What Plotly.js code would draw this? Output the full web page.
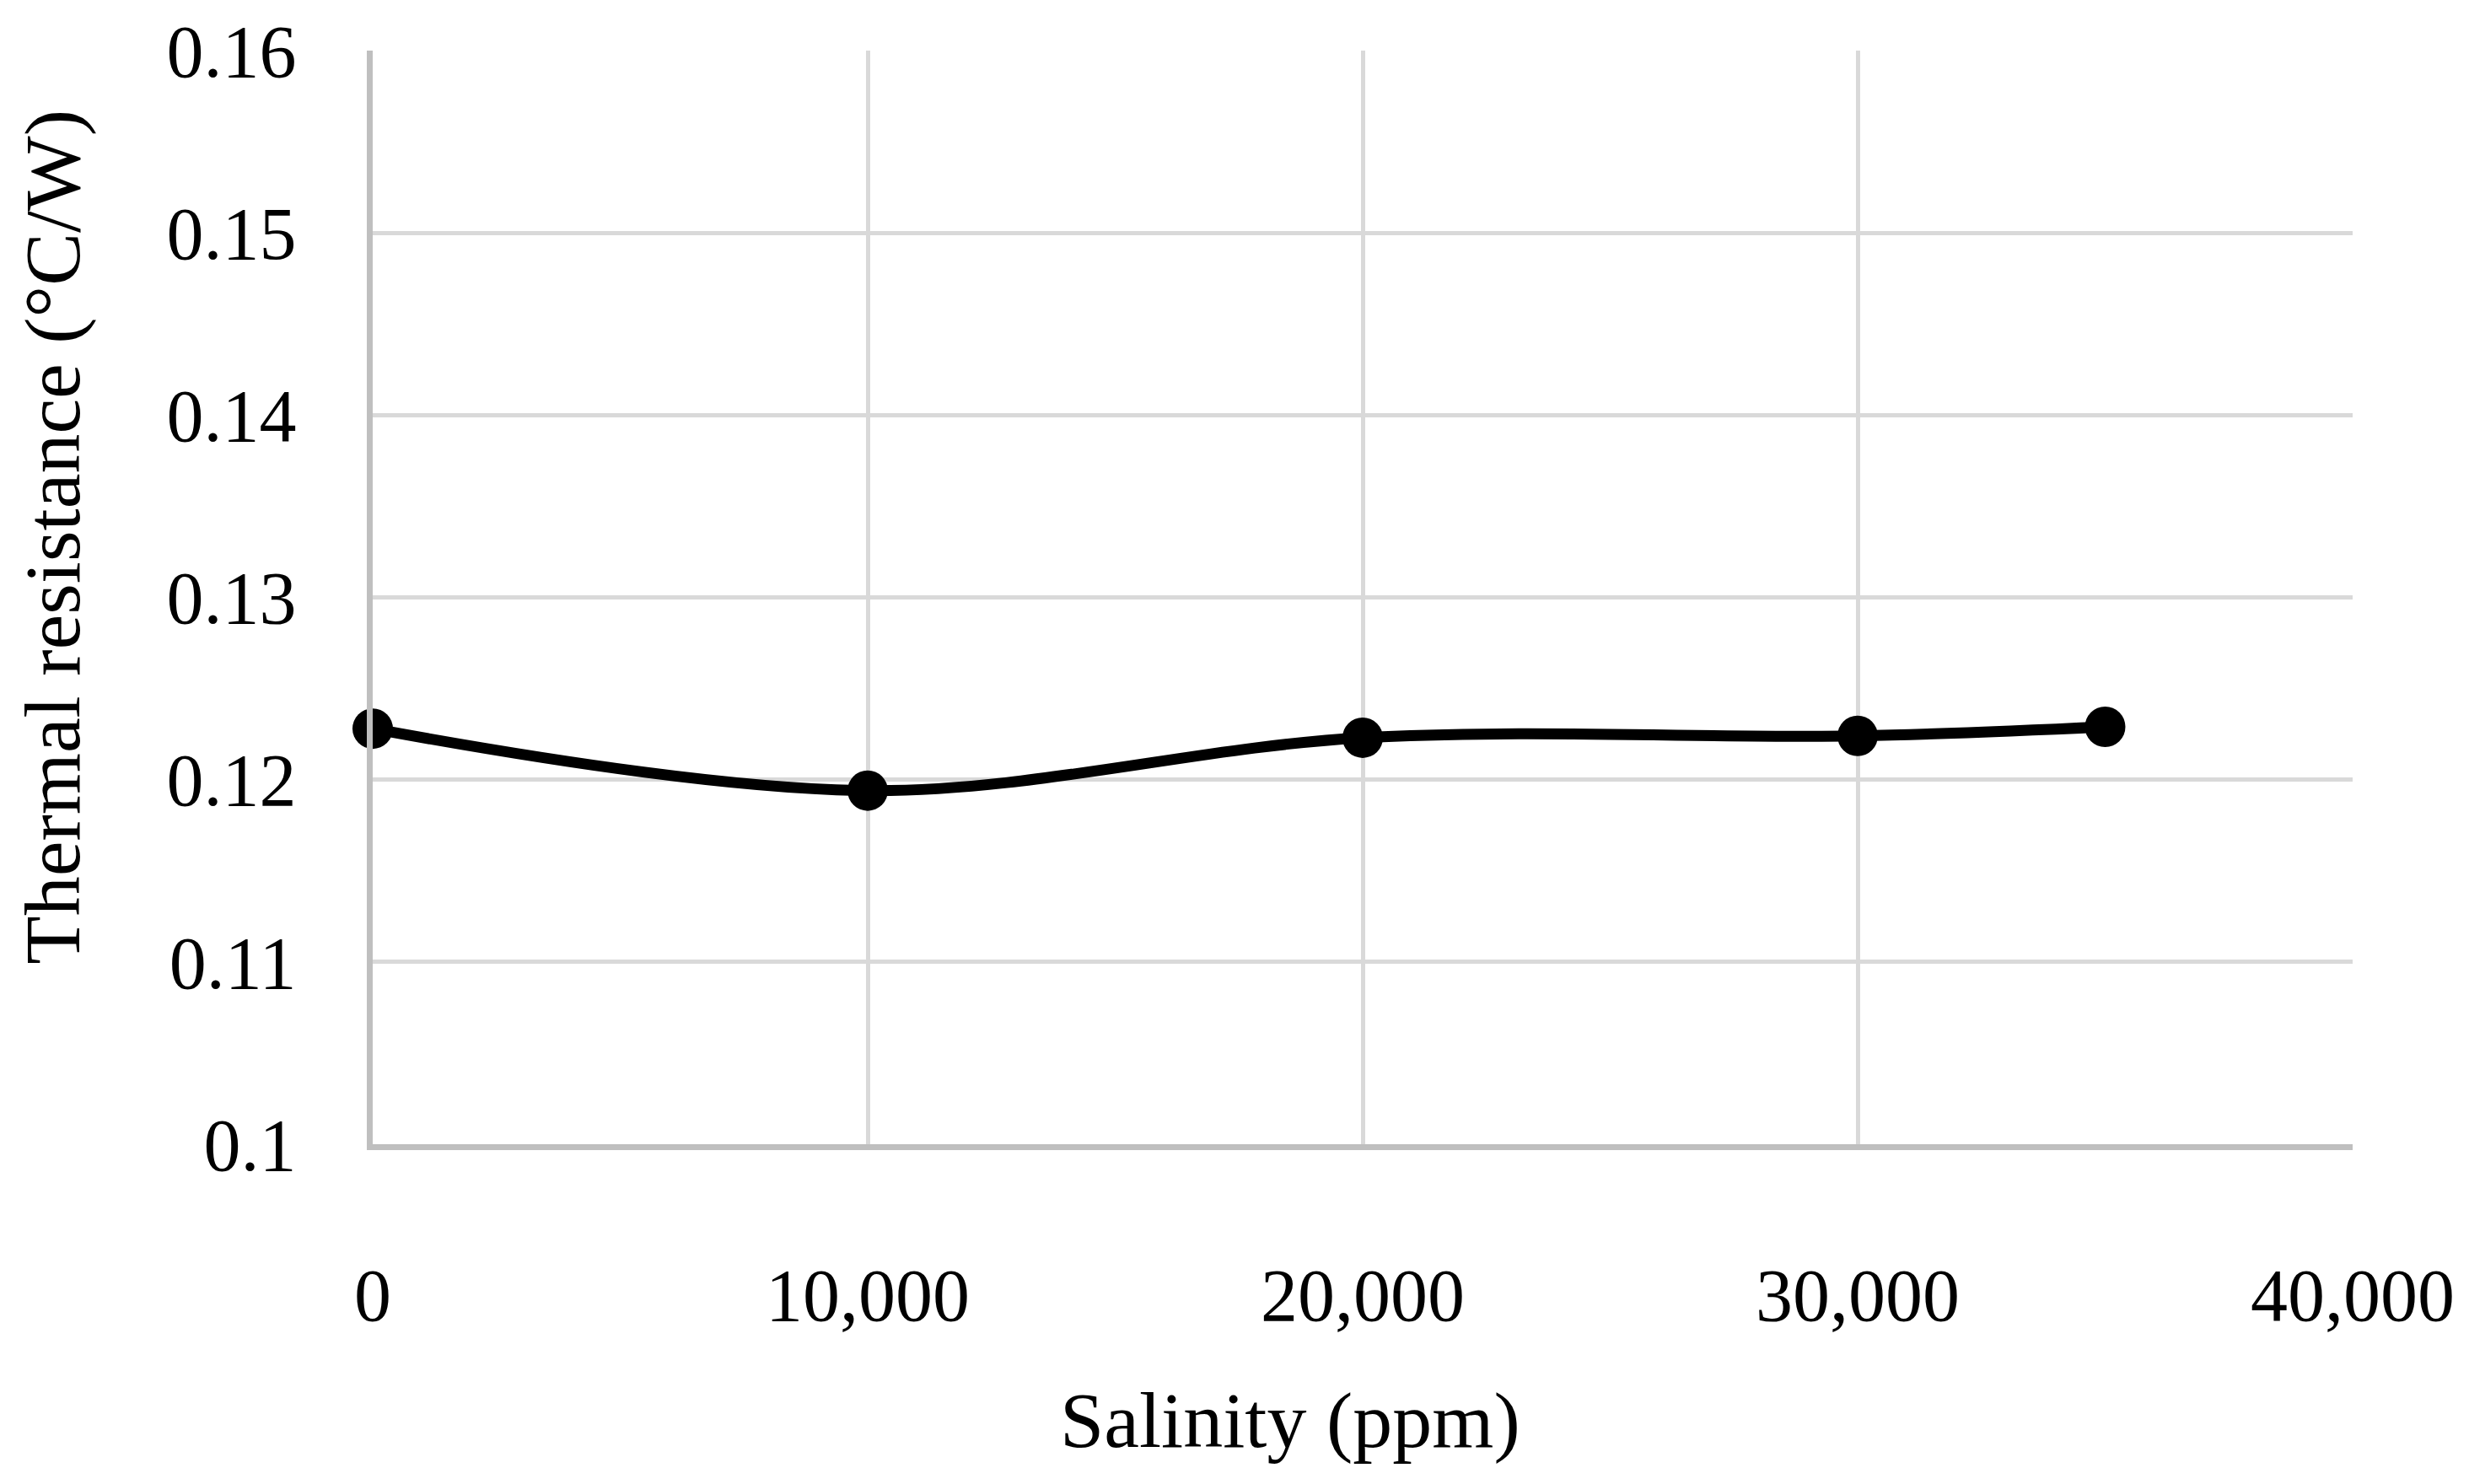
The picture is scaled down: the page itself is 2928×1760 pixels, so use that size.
<!DOCTYPE html>
<html>
<head>
<meta charset="utf-8">
<script src="https://cdn.plot.ly/plotly-3.0.1.min.js"></script>
<style>
  html, body { margin: 0; padding: 0; background: #ffffff; }
  #chart { width: 2928px; height: 1760px; }
</style>
</head>
<body>
<div id="chart"></div>
<script>
// Data
const salinity = [0, 10000, 20000, 30000, 35000];
const thermalResistance = [0.1228, 0.1194, 0.1223, 0.1224, 0.1229];

const xTitle = "Salinity (ppm)";
const yTitle = "Thermal resistance (°C/W)";

const FONT = "'Liberation Serif', 'Times New Roman', serif";

const trace = {
  x: salinity,
  y: thermalResistance,
  type: "scatter",
  mode: "lines+markers",
  line: { color: "#000000", width: 13, shape: "spline", smoothing: 1 },
  marker: { color: "#000000", size: 48 },
  showlegend: false,
  cliponaxis: false
};

const layout = {
  width: 2928,
  height: 1760,
  margin: { l: 442, r: 138, t: 60, b: 403, pad: 0 },
  paper_bgcolor: "#ffffff",
  plot_bgcolor: "#ffffff",
  font: { family: FONT, color: "#000000", size: 88 },
  xaxis: {
    range: [0, 40000],
    dtick: 10000,
    tick0: 0,
    tickformat: ",d",
    showgrid: true,
    gridcolor: "#d9d9d9",
    gridwidth: 5,
    zeroline: false,
    showline: true,
    linecolor: "#bfbfbf",
    linewidth: 7,
    ticks: "",
    ticklabelstandoff: 96,
    tickfont: { family: FONT, size: 88, color: "#000000" },
    fixedrange: true
  },
  yaxis: {
    range: [0.1, 0.16],
    dtick: 0.01,
    tick0: 0.1,
    showgrid: true,
    gridcolor: "#d9d9d9",
    gridwidth: 5,
    zeroline: false,
    showline: true,
    linecolor: "#bfbfbf",
    linewidth: 7,
    ticks: "",
    ticklabelstandoff: 66,
    tickfont: { family: FONT, size: 88, color: "#000000" },
    fixedrange: true
  },
  annotations: [
    {
      text: xTitle,
      xref: "paper", yref: "paper",
      x: 0.4635, y: -0.2521,
      xanchor: "center", yanchor: "middle",
      showarrow: false,
      font: { family: FONT, size: 94, color: "#000000" }
    },
    {
      text: yTitle,
      xref: "paper", yref: "paper",
      x: -0.1620, y: 0.5551,
      xanchor: "center", yanchor: "middle",
      textangle: -90,
      showarrow: false,
      font: { family: FONT, size: 94, color: "#000000" }
    }
  ]
};

Plotly.newPlot("chart", [trace], layout, { displayModeBar: false, staticPlot: true });
</script>
</body>
</html>
